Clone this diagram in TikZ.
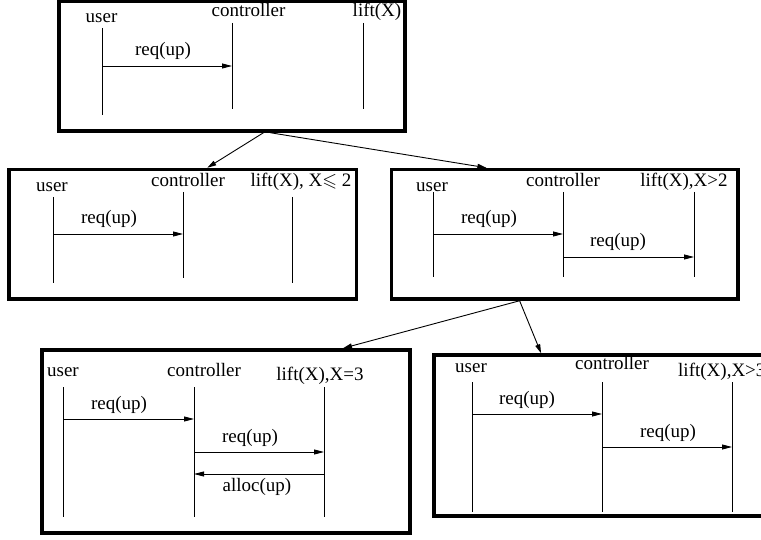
\documentclass[tikz,border=0pt]{standalone}
\usepackage{amssymb}
\usepackage{fontspec}
\setmainfont{Liberation Serif}
\usetikzlibrary{arrows.meta,calc}

\begin{document}
\begin{tikzpicture}[x=1pt,y=-1pt,
  font=\fontsize{19}{22}\selectfont,
  box/.style={draw, line width=3.5pt, rectangle, inner sep=0pt},
  life/.style={line width=0.9pt},
  msg/.style={line width=0.9pt, -{Triangle[length=10pt,width=5pt]}},
  link/.style={line width=0.9pt, -{Triangle[length=9pt,width=5pt]}},
  lbl/.style={anchor=base, inner sep=0pt}]

\useasboundingbox (0,0) rectangle (761,540);
\clip (0,0) rectangle (761,540);

% ---- frames of the five scenarios ----
\node[box, minimum width=346pt,   minimum height=130pt]   (T)  at (232,66)        {};
\node[box, minimum width=347.5pt, minimum height=129.5pt] (L)  at (182.75,234.25) {};
\node[box, minimum width=346.5pt, minimum height=129.5pt] (R)  at (564.75,234.25) {};
\node[box, minimum width=368pt,   minimum height=183pt]   (LL) at (226,441.5)     {};
\node[box, minimum width=368pt,   minimum height=161pt]   (LR) at (618,435.5)     {};

% ---- refinement arrows between the frames ----
\draw[link] ($(T.south west)!0.59!(T.south east)$) -- ($(L.north west)!0.57!(L.north east)$);
\draw[link] ($(T.south west)!0.61!(T.south east)$) -- ($(R.north west)!0.276!(R.north east)$);
\draw[link] ($(R.south west)!0.371!(R.south east)$) -- ($(LL.north west)!0.815!(LL.north east)$);
\draw[link] ($(R.south west)!0.371!(R.south east)$) -- ($(LR.north west)!0.293!(LR.north east)$);

% ---- top frame ----
\coordinate (Tu) at (102,28);  \coordinate (Tc) at (232,23);  \coordinate (Tl) at (363,23);
\draw[life] (Tu) -- ++(0,87);
\draw[life] (Tc) -- ++(0,86);
\draw[life] (Tl) -- ++(0,86);
\node[lbl] (Tut) at (101.5,23) {user};
\node[lbl] (Tct) at (248.5,17) {controller};
\node[lbl] (Tlt) at (377,17)   {lift(X)};
\draw[msg] (Tu |- 0,66) -- (Tc |- 0,66);
\node[lbl] (Tm1) at (163,56) {req(up)};

% ---- left frame, X <= 2 ----
\coordinate (Lu) at (53,197);  \coordinate (Lc) at (183,192);  \coordinate (Ll) at (292,197);
\draw[life] (Lu) -- ++(0,86);
\draw[life] (Lc) -- ++(0,86);
\draw[life] (Ll) -- ++(0,86);
\node[lbl] (Lut) at (52,192)  {user};
\node[lbl] (Lct) at (188,187) {controller};
\node[lbl] (Llt) at (301,187) {lift(X), X$\leqslant$ 2};
\draw[msg] (Lu |- 0,234) -- (Lc |- 0,234);
\node[lbl] (Lm1) at (109,224) {req(up)};

% ---- right frame, X > 2 ----
\coordinate (Ru) at (433,192);  \coordinate (Rc) at (563,192);  \coordinate (Rl) at (694,192);
\draw[life] (Ru) -- ++(0,85);
\draw[life] (Rc) -- ++(0,85);
\draw[life] (Rl) -- ++(0,85);
\node[lbl] (Rut) at (432,192) {user};
\node[lbl] (Rct) at (563,187) {controller};
\node[lbl] (Rlt) at (684,187) {lift(X),X>2};
\draw[msg] (Ru |- 0,234) -- (Rc |- 0,234);
\node[lbl] (Rm1) at (489,224) {req(up)};
\draw[msg] (Rc |- 0,257) -- (Rl |- 0,257);
\node[lbl] (Rm2) at (618,247) {req(up)};

% ---- lower left frame, X = 3 ----
\coordinate (Au) at (63,387);  \coordinate (Ac) at (194,387);  \coordinate (Al) at (324,387);
\draw[life] (Au) -- ++(0,130);
\draw[life] (Ac) -- ++(0,130);
\draw[life] (Al) -- ++(0,130);
\node[lbl] (Aut) at (63,377)  {user};
\node[lbl] (Act) at (204,377) {controller};
\node[lbl] (Alt) at (320,380) {lift(X),X=3};
\draw[msg] (Au |- 0,419) -- (Ac |- 0,419);
\node[lbl] (Am1) at (119,409) {req(up)};
\draw[msg] (Ac |- 0,452) -- (Al |- 0,452);
\node[lbl] (Am2) at (250,442) {req(up)};
\draw[msg] (Al |- 0,474) -- (Ac |- 0,474);
\node[lbl] (Am3) at (257,491) {alloc(up)};

% ---- lower right frame, X > 3 ----
\coordinate (Bu) at (472,382);  \coordinate (Bc) at (602,382);  \coordinate (Bl) at (732,382);
\draw[life] (Bu) -- ++(0,130);
\draw[life] (Bc) -- ++(0,130);
\draw[life] (Bl) -- ++(0,130);
\node[lbl] (But) at (471,372) {user};
\node[lbl] (Bct) at (612,370) {controller};
\node[lbl, anchor=base west] (Blt) at (678,376) {lift(X),X>3};
\draw[msg] (Bu |- 0,414) -- (Bc |- 0,414);
\node[lbl] (Bm1) at (527,404) {req(up)};
\draw[msg] (Bc |- 0,447) -- (Bl |- 0,447);
\node[lbl] (Bm2) at (668,437) {req(up)};
\end{tikzpicture}
\end{document}
